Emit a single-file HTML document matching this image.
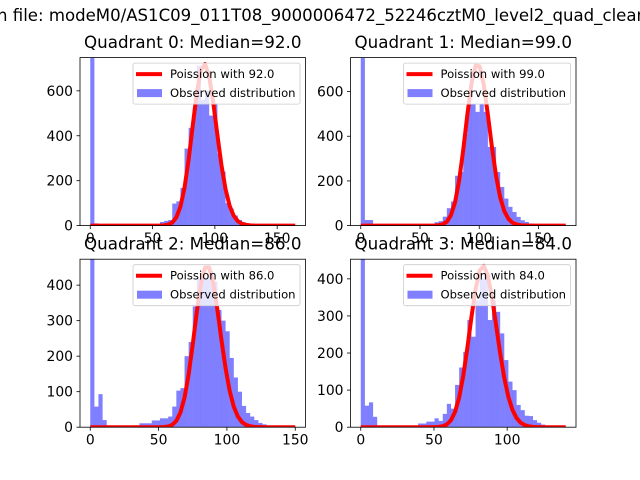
<!DOCTYPE html>
<html><head><meta charset="utf-8"><style>
html,body{margin:0;padding:0;background:#fff;}
svg{display:block;font-family:"DejaVu Sans","Liberation Sans",sans-serif;}
</style></head><body>
<svg id="fig" width="640" height="480" viewBox="0 0 640 480" xmlns="http://www.w3.org/2000/svg">
<rect width="640" height="480" fill="#fff"/>
<text x="-3" y="21" font-size="16.5" textLength="650" lengthAdjust="spacingAndGlyphs" fill="#000">n file: modeM0/AS1C09_011T08_9000006472_52246cztM0_level2_quad_clean</text>
</svg>
<script>
const quadrantNames = ["Quadrant 0", "Quadrant 1", "Quadrant 2", "Quadrant 3"];
const medians = [92.0, 99.0, 86.0, 84.0];
const dataMax = [164.5, 173, 150, 140];
const yMax = [748, 752, 473, 453];
const linePeaks = [720, 724, 455, 435];
const xTicks0 = [0, 50, 100, 150];
const xTicks1 = [0, 50, 100, 150];
const xTicks2 = [0, 50, 100, 150];
const xTicks3 = [0, 50, 100];
const yTicks0 = [0, 200, 400, 600];
const yTicks1 = [0, 200, 400, 600];
const yTicks2 = [0, 100, 200, 300, 400];
const yTicks3 = [0, 100, 200, 300, 400];
const counts0 = [1000,10,3,0,0,0,0,0,0,0,0,0,0,0,0,0,0,16,21,25,98,108,168,343,435,520,712,560,600,490,545,320,240,100,75,45,25,15,10,5,5,3,2,2,2,2,2,2,2,2];
const counts1 = [1000,25,25,0,0,0,0,0,0,0,0,0,0,0,0,0,0,0,15,20,40,78,108,223,240,410,546,546,509,546,509,352,352,240,173,121,84,61,39,24,16,9,8,2,2,2,2,2,2,2];
const counts2 = [1000,58,93,20,5,2,2,2,2,4,5,5,11,11,11,19,19,25,25,30,58,103,110,200,240,340,420,430,420,440,410,330,300,270,195,140,100,60,40,30,20,12,8,4,2,2,2,2,2,2];
const counts3 = [1000,58,67,28,2,0,0,0,0,0,0,0,0,0,10,10,15,15,24,17,36,63,50,114,161,203,289,244,342,400,414,289,342,311,253,181,123,100,60,46,31,30,19,12,7,2,2,2,2,2];

const xTicksAll = [xTicks0, xTicks1, xTicks2, xTicks3];
const yTicksAll = [yTicks0, yTicks1, yTicks2, yTicks3];
const countsAll = [counts0, counts1, counts2, counts3];
const NS = "http://www.w3.org/2000/svg";
const svg = document.getElementById("fig");
const boxes = [[80,57.6],[350.5,57.6],[80,259.2],[350.5,259.2]];
const AW = 225.5, AH = 168;

function mk(tag, attrs, parent){
  const e = document.createElementNS(NS, tag);
  for (const k in attrs) e.setAttribute(k, attrs[k]);
  (parent||svg).appendChild(e);
  return e;
}
function lgamma(z){
  if (z < 7){ let p = 1; while (z < 7){ p *= z; z += 1; } return lgamma(z) - Math.log(p); }
  return (z-0.5)*Math.log(z) - z + 0.5*Math.log(2*Math.PI) + 1/(12*z) - 1/(360*z*z*z);
}
function poisLog(k, mu){ return k*Math.log(Math.max(mu,1e-9)) - mu - lgamma(k+1); }

for (let q = 0; q < 4; q++){
  const [ax, ay] = boxes[q];
  const M = dataMax[q];
  const x0 = -0.05*M, x1 = 1.05*M;
  const sx = v => ax + (v - x0)/(x1 - x0)*AW;
  const sy = v => ay + AH - v/yMax[q]*AH;
  const g = mk("g", {});
  
  
  const clipId = "clip" + q;
  const cp = mk("clipPath", {id: clipId}, g);
  mk("rect", {x: ax, y: ay, width: AW, height: AH}, cp);

  const hg = mk("g", {"clip-path": "url(#" + clipId + ")"}, g);
  
  
  const cts = countsAll[q];
  const bw = M / cts.length;
  cts.forEach((c, i) => {
    if (c <= 0) return;
    const xa = sx(i*bw), xb = sx((i+1)*bw);
    const r = mk("rect", {x: xa, y: sy(c), width: xb - xa + 0.05, height: sy(0) - sy(c), fill: "#0000ff", "fill-opacity": 0.5}, hg);
    
    
  });

  const mu = medians[q];
  const mode = Math.floor(mu);
  const refLog = poisLog(mode, mu);
  let d = "";
  for (let i = 0; i <= cts.length; i++){
    const k = i*bw;
    const v = linePeaks[q]*Math.exp(poisLog(k, mu) - refLog);
    d += (i ? "L" : "M") + sx(k).toFixed(2) + "," + sy(v).toFixed(2);
  }
  const pl = mk("path", {d: d, fill: "none", stroke: "#ff0000", "stroke-width": 4, "stroke-linejoin": "round", "clip-path": "url(#" + clipId + ")"}, g);
  
  

  const sp = mk("rect", {x: ax, y: ay, width: AW, height: AH, fill: "none", stroke: "#000", "stroke-width": 0.8}, g);
  
  

  xTicksAll[q].forEach(t => {
    const x = sx(t);
    const tk = mk("line", {x1: x, x2: x, y1: ay+AH, y2: ay+AH+3.5, stroke: "#000", "stroke-width": 0.8}, g);
    
    
    const tl = mk("text", {x: x, y: ay+AH+17.5, "font-size": 13.9, "text-anchor": "middle", fill: "#000"}, g);
    tl.textContent = String(t);
    
    
  });
  yTicksAll[q].forEach(t => {
    const y = sy(t);
    const tk = mk("line", {x1: ax-3.5, x2: ax, y1: y, y2: y, stroke: "#000", "stroke-width": 0.8}, g);
    
    
    const tl = mk("text", {x: ax-7, y: y+5, "font-size": 13.9, "text-anchor": "end", fill: "#000"}, g);
    tl.textContent = String(t);
    
    
  });

  const tt = mk("text", {x: ax + AW/2, y: ay - 9.5, "font-size": 16.7, "text-anchor": "middle", fill: "#000"}, g);
  tt.textContent = quadrantNames[q] + ": Median=" + medians[q].toFixed(1);
  
  

  const lg = mk("g", {}, g);
  
  
  const lx = ax + AW - 172.5, ly = ay + 5.5;
  mk("rect", {x: lx, y: ly, width: 167, height: 41, rx: 2, fill: "#fff", "fill-opacity": 0.8, stroke: "#cccccc", "stroke-width": 0.8}, lg);
  const ll = mk("line", {x1: lx+3, x2: lx+29, y1: ly+11, y2: ly+11, stroke: "#ff0000", "stroke-width": 4}, lg);
  
  
  const t1 = mk("text", {x: lx+37, y: ly+15, "font-size": 11.6, fill: "#000"}, lg);
  t1.textContent = "Poission with " + medians[q].toFixed(1);
  
  
  const pr = mk("rect", {x: lx+4, y: ly+26, width: 25, height: 8, fill: "#0000ff", "fill-opacity": 0.5}, lg);
  
  
  const t2 = mk("text", {x: lx+37, y: ly+34, "font-size": 11.6, fill: "#000"}, lg);
  t2.textContent = "Observed distribution";
  
  
}
</script>
</body></html>
